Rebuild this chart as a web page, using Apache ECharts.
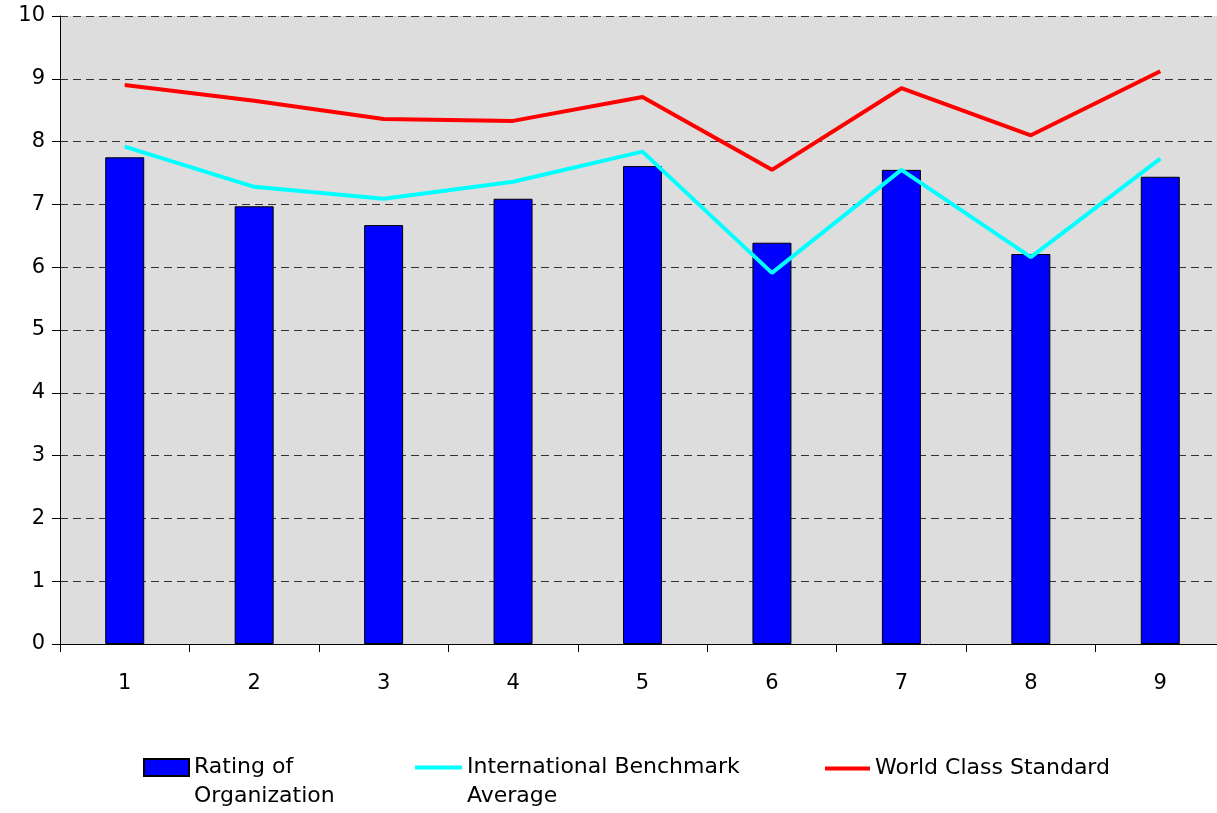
<!DOCTYPE html>
<html>
<head>
<meta charset="utf-8">
<script src="https://cdn.jsdelivr.net/npm/echarts@6/dist/echarts.min.js"></script>
<style>
  html, body { margin: 0; padding: 0; background: #fff; }
  #chart { width: 1217px; height: 813px; }
</style>
</head>
<body>
<div id="chart"></div>
<script>
const categories = ["1", "2", "3", "4", "5", "6", "7", "8", "9"];
const ratingOfOrganization = [7.75, 6.97, 6.67, 7.09, 7.61, 6.39, 7.55, 6.21, 7.44];
const benchmarkAverage = [7.92, 7.28, 7.09, 7.36, 7.84, 5.91, 7.55, 6.16, 7.73];
const worldClassStandard = [8.90, 8.65, 8.36, 8.33, 8.71, 7.55, 8.85, 8.10, 9.12];

const NAME_BAR = "Rating of Organization";
const NAME_BENCH = "International Benchmark Average";
const NAME_WORLD = "World Class Standard";

const font = "'DejaVu Sans', 'Liberation Sans', Arial, sans-serif";
const chart = echarts.init(document.getElementById("chart"));

const legendText = {
  fontFamily: font, fontSize: 22, color: "#000", lineHeight: 29
};

chart.setOption({
  animation: false,
  backgroundColor: "#fff",
  // plot area runs past the right edge of the picture, like the reference
  grid: {
    left: 60, top: 16, bottom: 169, width: 1165,
    outerBoundsMode: "none", containLabel: false,
    show: true, backgroundColor: "#DDDDDD", borderWidth: 0
  },
  legend: [
    {
      // empty first line so the icon sits beside the first real line
      data: [NAME_BAR], left: 143, top: 724, padding: 0, icon: "rect", itemWidth: 45, itemHeight: 17,
      formatter: () => "\nRating of\nOrganization",
      textStyle: legendText
    },
    {
      data: [NAME_BENCH], left: 415, top: 724, padding: 0, icon: "rect", itemWidth: 47, itemHeight: 4,
      formatter: () => "\nInternational Benchmark\nAverage",
      textStyle: legendText
    },
    {
      data: [NAME_WORLD], left: 825, top: 754, padding: 0, icon: "rect", itemWidth: 45, itemHeight: 4,
      textStyle: legendText
    }
  ],
  xAxis: {
    type: "category",
    data: categories,
    boundaryGap: true,
    axisLine: { lineStyle: { color: "#000", width: 1 } },
    axisTick: { show: true, length: 8, lineStyle: { color: "#000" } },
    axisLabel: { color: "#000", fontFamily: font, fontSize: 21, margin: 29 }
  },
  yAxis: {
    type: "value",
    min: 0, max: 10, interval: 1,
    axisLine: { show: true, lineStyle: { color: "#000", width: 1 } },
    axisTick: { show: true, length: 8, lineStyle: { color: "#000" } },
    axisLabel: { color: "#000", fontFamily: font, fontSize: 21, margin: 15 },
    splitLine: { show: true, lineStyle: { color: "#333", type: [8, 5], width: 1 } }
  },
  series: [
    {
      name: NAME_BAR,
      type: "bar",
      data: ratingOfOrganization,
      barWidth: 39,
      itemStyle: { color: "#0000FF", borderColor: "#000", borderWidth: 1 }
    },
    {
      name: NAME_BENCH,
      type: "line",
      data: benchmarkAverage,
      showSymbol: false,
      symbol: "none",
      lineStyle: { color: "#00FFFF", width: 4 },
      itemStyle: { color: "#00FFFF" }
    },
    {
      name: NAME_WORLD,
      type: "line",
      data: worldClassStandard,
      showSymbol: false,
      symbol: "none",
      lineStyle: { color: "#FF0000", width: 4 },
      itemStyle: { color: "#FF0000" }
    }
  ]
});
</script>
</body>
</html>
